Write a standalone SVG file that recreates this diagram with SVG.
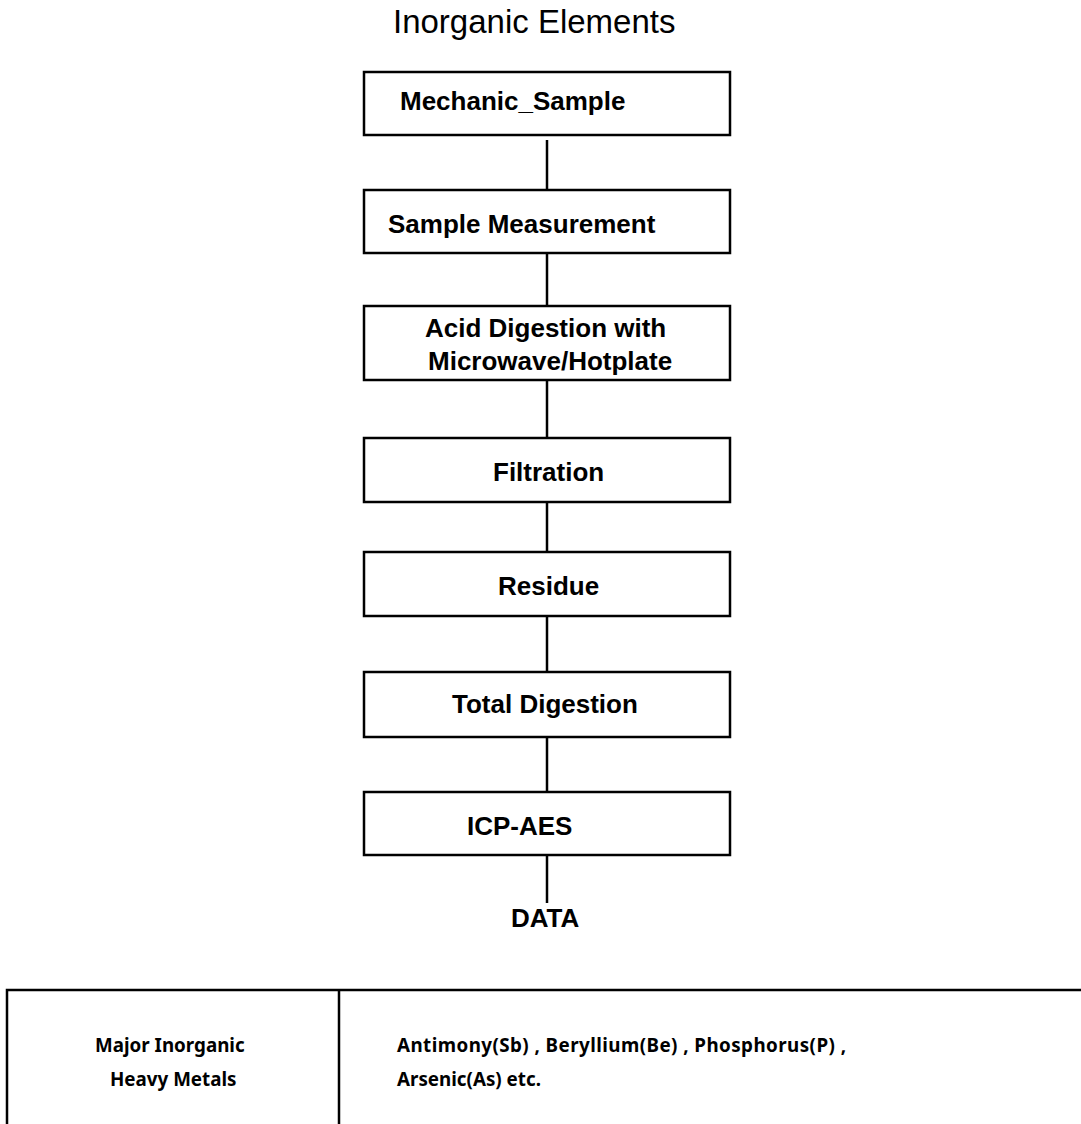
<svg xmlns="http://www.w3.org/2000/svg" width="1081" height="1124" viewBox="0 0 1081 1124">
<style>
.box{fill:#fff;stroke:#000;stroke-width:2.5}
.lbl{font-family:"Liberation Sans",Arial,sans-serif;font-weight:bold;font-size:26px;fill:#000}
.title{font-family:"Liberation Sans",Arial,sans-serif;font-size:33px;fill:#000}
.conn{stroke:#000;stroke-width:2.5;fill:none}
.tbl{font-family:"Noto Sans",sans-serif;font-weight:bold;font-size:18.8px;fill:#000}
</style>
<rect width="1081" height="1124" fill="#fff"/>
<text class="title" x="393" y="33">Inorganic Elements</text>
<g id="connectors">
<line class="conn" x1="547" y1="140" x2="547" y2="190"/>
<line class="conn" x1="547" y1="243" x2="547" y2="312"/>
<line class="conn" x1="547" y1="380" x2="547" y2="443"/>
<line class="conn" x1="547" y1="502" x2="547" y2="557"/>
<line class="conn" x1="547" y1="616" x2="547" y2="672"/>
<line class="conn" x1="547" y1="737" x2="547" y2="792"/>
<line class="conn" x1="547" y1="855" x2="547" y2="903"/>
</g>
<g id="n1"><rect class="box" x="364" y="72" width="366" height="63"/><text class="lbl" x="400" y="110">Mechanic_Sample</text></g>
<g id="n2"><rect class="box" x="364" y="190" width="366" height="63"/><text class="lbl" x="388" y="233">Sample Measurement</text></g>
<g id="n3"><rect class="box" x="364" y="306" width="366" height="74"/><text class="lbl" x="425" y="337">Acid Digestion with</text><text class="lbl" x="428" y="370">Microwave/Hotplate</text></g>
<g id="n4"><rect class="box" x="364" y="438" width="366" height="64"/><text class="lbl" x="493" y="481">Filtration</text></g>
<g id="n5"><rect class="box" x="364" y="552" width="366" height="64"/><text class="lbl" x="498" y="595">Residue</text></g>
<g id="n6"><rect class="box" x="364" y="672" width="366" height="65"/><text class="lbl" x="452" y="713">Total Digestion</text></g>
<g id="n7"><rect class="box" x="364" y="792" width="366" height="63"/><text class="lbl" x="467" y="835">ICP-AES</text></g>
<g id="n8"><text class="lbl" x="511" y="927">DATA</text></g>
<g id="table">
<path d="M1081 990 H7 V1130" class="conn"/>
<line class="conn" x1="339" y1="990" x2="339" y2="1130"/>
<text class="tbl" x="95" y="1052">Major Inorganic</text>
<text class="tbl" x="110" y="1086">Heavy Metals</text>
<text class="tbl" x="397" y="1052" textLength="449" lengthAdjust="spacing">Antimony(Sb) , Beryllium(Be) , Phosphorus(P) ,</text>
<text class="tbl" x="397" y="1086">Arsenic(As) etc.</text>
</g>
</svg>
